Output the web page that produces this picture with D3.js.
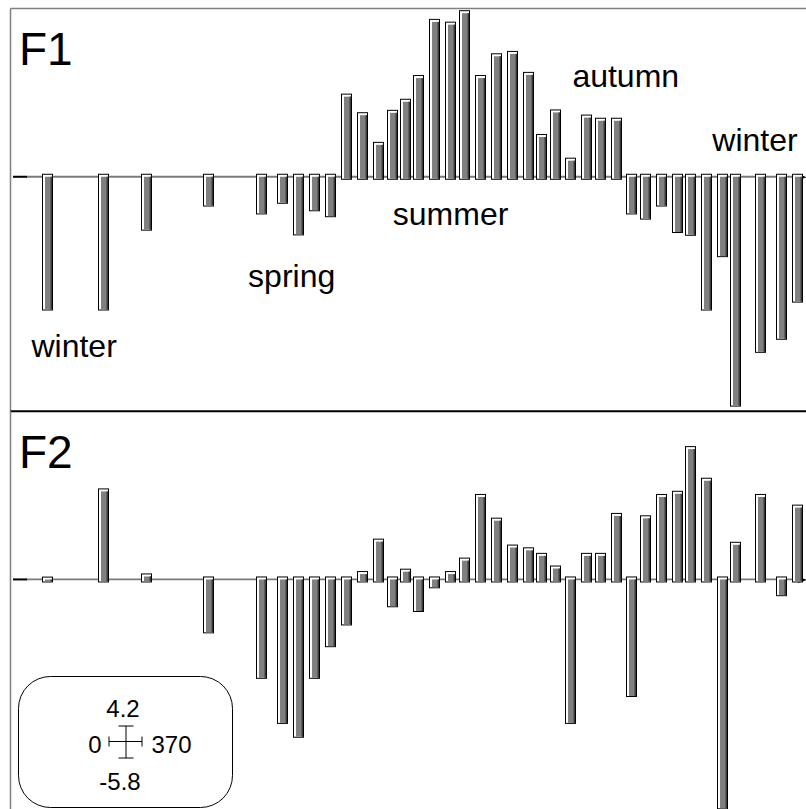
<!DOCTYPE html>
<html>
<head>
<meta charset="utf-8">
<script src="https://cdn.jsdelivr.net/npm/d3@7"></script>
<style>
  html, body { margin: 0; padding: 0; background: #fff; }
  svg { display: block; }
  text { font-family: "Liberation Sans", Arial, Helvetica, sans-serif; fill: #000; }
</style>
</head>
<body>
<script>
// Sampling dates (day of the year) shared by both factors
const days = [16.2, 42.4, 62.4, 91.0, 115.9, 125.9, 133.4, 140.8, 148.3, 155.8,
              163.2, 170.7, 176.9, 183.1, 189.3, 196.8, 204.3, 210.5, 218.0, 225.5,
              232.9, 240.4, 246.7, 252.9, 260.3, 267.8, 274.0, 281.4, 288.8, 295.1,
              302.6, 310.0, 316.3, 323.7, 331.2, 337.3, 348.6, 358.6, 366.2];

// Scores on the first factor
const f1 = [-3.37, -3.37, -1.35, -0.74, -0.94, -0.67, -1.47, -0.86, -1.01, 2.09,
            1.62, 0.87, 1.68, 1.96, 2.56, 3.98, 3.91, 4.2, 2.56, 3.11,
            3.17, 2.64, 1.07, 1.69, 0.47, 1.56, 1.48, 1.48, -0.94, -1.07,
            -0.74, -1.41, -1.48, -3.37, -2.02, -5.8, -4.44, -4.11, -3.17];

// Scores on the second factor
const f2 = [0.06, 2.29, 0.14, -1.35, -2.50, -3.64, -3.99, -2.50, -1.70, -1.15,
            0.20, 1.02, -0.69, 0.26, -0.81, -0.21, 0.20, 0.54, 2.15, 1.55,
            0.87, 0.80, 0.66, 0.34, -3.64, 0.66, 0.66, 1.67, -2.96, 1.61,
            2.15, 2.23, 3.36, 2.56, -5.8, 0.94, 2.15, -0.41, 1.88];

const panelNames = ["F1", "F2"];
const seasons = ["winter", "spring", "summer", "autumn", "winter"];
const xLimits = [0, 370];
const yLimits = [-5.8, 4.2];

const W = 806, H = 809;
const svg = d3.select("body").append("svg").attr("width", W).attr("height", H);

const x = d3.scaleLinear().domain(xLimits).range([13, 806]);
const panelH = 402.7;
const panelTops = [9, 9 + panelH];

// Season annotations on the first panel (day, value at text baseline)
const seasonPos = [[8.6, -4.56], [109.7, -2.79], [177.2, -1.22], [261.0, 2.27], [326.3, 0.65]];

function drawPanel(i, values) {
  const top = panelTops[i];
  const y = d3.scaleLinear().domain(yLimits).range([top + 397.1, top + 1.7]);
  const g = svg.append("g");
  const y0 = y(0);

  // frame
  g.append("line").attr("x1", 10.5).attr("x2", W).attr("y1", top - 0.5).attr("y2", top - 0.5)
    .attr("stroke", i === 0 ? "#808080" : "#000").attr("stroke-width", i === 0 ? 1.5 : 2);
  g.append("line").attr("x1", 10.5).attr("x2", 10.5).attr("y1", top - 0.5).attr("y2", top + panelH)
    .attr("stroke", "#808080").attr("stroke-width", 1.5);

  // time axis
  g.append("line").attr("x1", x(xLimits[0])).attr("x2", x(xLimits[1]) - 4)
    .attr("y1", y0).attr("y2", y0).attr("stroke", "#7a7a7a").attr("stroke-width", 1.8);
  g.append("line").attr("x1", x(xLimits[0])).attr("x2", x(xLimits[0]) + 14)
    .attr("y1", y0).attr("y2", y0).attr("stroke", "#000").attr("stroke-width", 1.8);
  const tip = x(xLimits[1]) + 1;
  g.append("path")
    .attr("d", `M${tip - 10},${y0 - 3} L${tip},${y0 + 0.5} L${tip - 9},${y0 + 3.5} Z`)
    .attr("fill", "#000");

  // bars
  const bars = g.selectAll("g.bar").data(days.map((d, k) => ({ d, v: values[k] })))
    .join("g").attr("class", "bar");
  bars.each(function (p) {
    const b = d3.select(this);
    const cx = x(p.d);
    const L = Math.round(cx - 5.5) + 0.5;
    const bw = 10;
    const T = p.v >= 0 ? y(p.v) : y0 - 2.5;
    const B = p.v >= 0 ? y0 + 2.5 : y(p.v);
    const h = B - T;
    b.append("rect").attr("x", L).attr("y", T).attr("width", bw).attr("height", h)
      .attr("fill", "#fff").attr("stroke", "#000").attr("stroke-width", 1);
    if (h > 3) {
      b.append("rect").attr("x", L + 2.5).attr("y", T + 2.5)
        .attr("width", bw - 3).attr("height", h - 3).attr("fill", "#808080");
      b.append("rect").attr("x", L + 8).attr("y", T + 2.5)
        .attr("width", 1.5).attr("height", h - 3).attr("fill", "#3c3c3c");
    }
  });

  // panel name
  g.append("text").attr("x", 19).attr("y", top + 56).attr("font-size", 46).text(panelNames[i]);
  return y;
}

const y1 = drawPanel(0, f1);
drawPanel(1, f2);

// season labels
svg.append("g").selectAll("text").data(seasons).join("text")
  .attr("x", (s, k) => x(seasonPos[k][0]))
  .attr("y", (s, k) => y1(seasonPos[k][1]))
  .attr("font-size", 32)
  .text(s => s);

// scale legend
const leg = svg.append("g");
leg.append("rect").attr("x", 18.5).attr("y", 676.5).attr("width", 214).attr("height", 131)
  .attr("rx", 32).attr("ry", 32).attr("fill", "#fff").attr("stroke", "#000").attr("stroke-width", 1);
const cx = 126, cy = 741.5;
leg.append("line").attr("x1", cx - 17).attr("x2", cx + 16).attr("y1", cy).attr("y2", cy).attr("stroke", "#000");
leg.append("line").attr("x1", cx - 17).attr("x2", cx - 17).attr("y1", cy - 5).attr("y2", cy + 5).attr("stroke", "#000");
leg.append("line").attr("x1", cx + 16).attr("x2", cx + 16).attr("y1", cy - 5).attr("y2", cy + 5).attr("stroke", "#000");
leg.append("line").attr("x1", cx).attr("x2", cx).attr("y1", cy - 15.5).attr("y2", cy + 16.5).attr("stroke", "#000");
leg.append("line").attr("x1", cx - 7.5).attr("x2", cx + 7.5).attr("y1", cy - 15.5).attr("y2", cy - 15.5).attr("stroke", "#000");
leg.append("line").attr("x1", cx - 7.5).attr("x2", cx + 7.5).attr("y1", cy + 16.5).attr("y2", cy + 16.5).attr("stroke", "#000");
leg.append("text").attr("x", 123).attr("y", 717).attr("font-size", 24).attr("text-anchor", "middle").text(yLimits[1]);
leg.append("text").attr("x", 120).attr("y", 790).attr("font-size", 24).attr("text-anchor", "middle").text(yLimits[0]);
leg.append("text").attr("x", 101.5).attr("y", 753).attr("font-size", 24).attr("text-anchor", "end").text(xLimits[0]);
leg.append("text").attr("x", 151.5).attr("y", 753).attr("font-size", 24).attr("text-anchor", "start").text(xLimits[1]);
</script>
</body>
</html>
